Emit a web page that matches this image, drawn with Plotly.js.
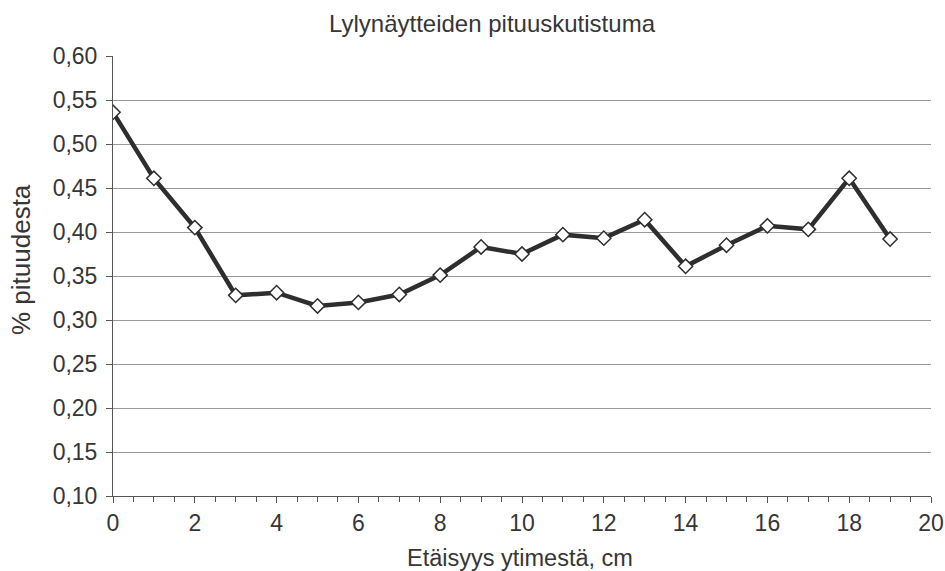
<!DOCTYPE html>
<html>
<head>
<meta charset="utf-8">
<script src="https://cdn.plot.ly/plotly-3.0.1.min.js"></script>
<style>html,body{margin:0;padding:0;background:#fff;}#chart{width:945px;height:571px;}</style>
</head>
<body>
<div id="chart"></div>
<script>
const distances = [0,1,2,3,4,5,6,7,8,9,10,11,12,13,14,15,16,17,18,19];
const shrinkage = [0.536,0.461,0.405,0.328,0.331,0.316,0.320,0.329,0.351,0.383,0.375,0.397,0.393,0.414,0.361,0.385,0.407,0.403,0.461,0.392];
const chartTitle = 'Lylynäytteiden pituuskutistuma';
const xLabel = 'Etäisyys ytimestä, cm';
const yLabel = '% pituudesta';

const font = 'Liberation Sans, Arial, sans-serif';
const txt = '#363636';
const W = 945, H = 571;

Plotly.newPlot('chart', [{
  x: distances,
  y: shrinkage,
  type: 'scatter',
  mode: 'lines+markers',
  line: {color: '#2e2e2e', width: 4.5},
  marker: {symbol: 'diamond', size: 11, color: '#ffffff', line: {color: '#2e2e2e', width: 1.5}},
  hoverinfo: 'x+y'
}], {
  width: W, height: H,
  margin: {l: 113, r: 14, t: 56, b: 75},
  paper_bgcolor: '#ffffff', plot_bgcolor: '#ffffff',
  separators: ', ',
  showlegend: false,
  font: {family: font, color: txt},
  title: {text: chartTitle, font: {family: font, size: 24, color: txt}, x: 492/W, xref: 'container', xanchor: 'center', y: 1 - 24/H, yref: 'container', yanchor: 'middle'},
  xaxis: {
    range: [0, 20], dtick: 2, tick0: 0,
    showgrid: false, zeroline: false,
    showline: true, linecolor: '#555555', linewidth: 1,
    ticks: 'outside', ticklen: 6, tickcolor: '#555555',
    minor: {dtick: 0.5, ticks: 'outside', ticklen: 5, tickcolor: '#555555', showgrid: false},
    tickfont: {family: font, size: 23, color: txt},
    automargin: false
  },
  yaxis: {
    range: [0.1, 0.6], dtick: 0.05, tick0: 0.1, tickformat: '.2f',
    showgrid: true, gridcolor: '#9a9a9a', gridwidth: 1,
    zeroline: false,
    showline: true, linecolor: '#555555', linewidth: 1,
    ticks: 'outside', ticklen: 6, tickcolor: '#555555',
    tickfont: {family: font, size: 23, color: txt},
    ticklabelstandoff: 4,
    automargin: false
  },
  annotations: [
    {text: xLabel, xref: 'paper', yref: 'paper', x: (520-113)/(W-113-14), y: -(558-496)/(496-56),
     xanchor: 'center', yanchor: 'middle', showarrow: false, font: {family: font, size: 23.5, color: txt}},
    {text: yLabel, xref: 'paper', yref: 'paper', x: -(113-21)/(W-113-14), y: (496-260)/(496-56),
     xanchor: 'center', yanchor: 'middle', textangle: -90, showarrow: false, font: {family: font, size: 26, color: txt}}
  ]
}, {displayModeBar: false, staticPlot: true});
</script>
</body>
</html>
